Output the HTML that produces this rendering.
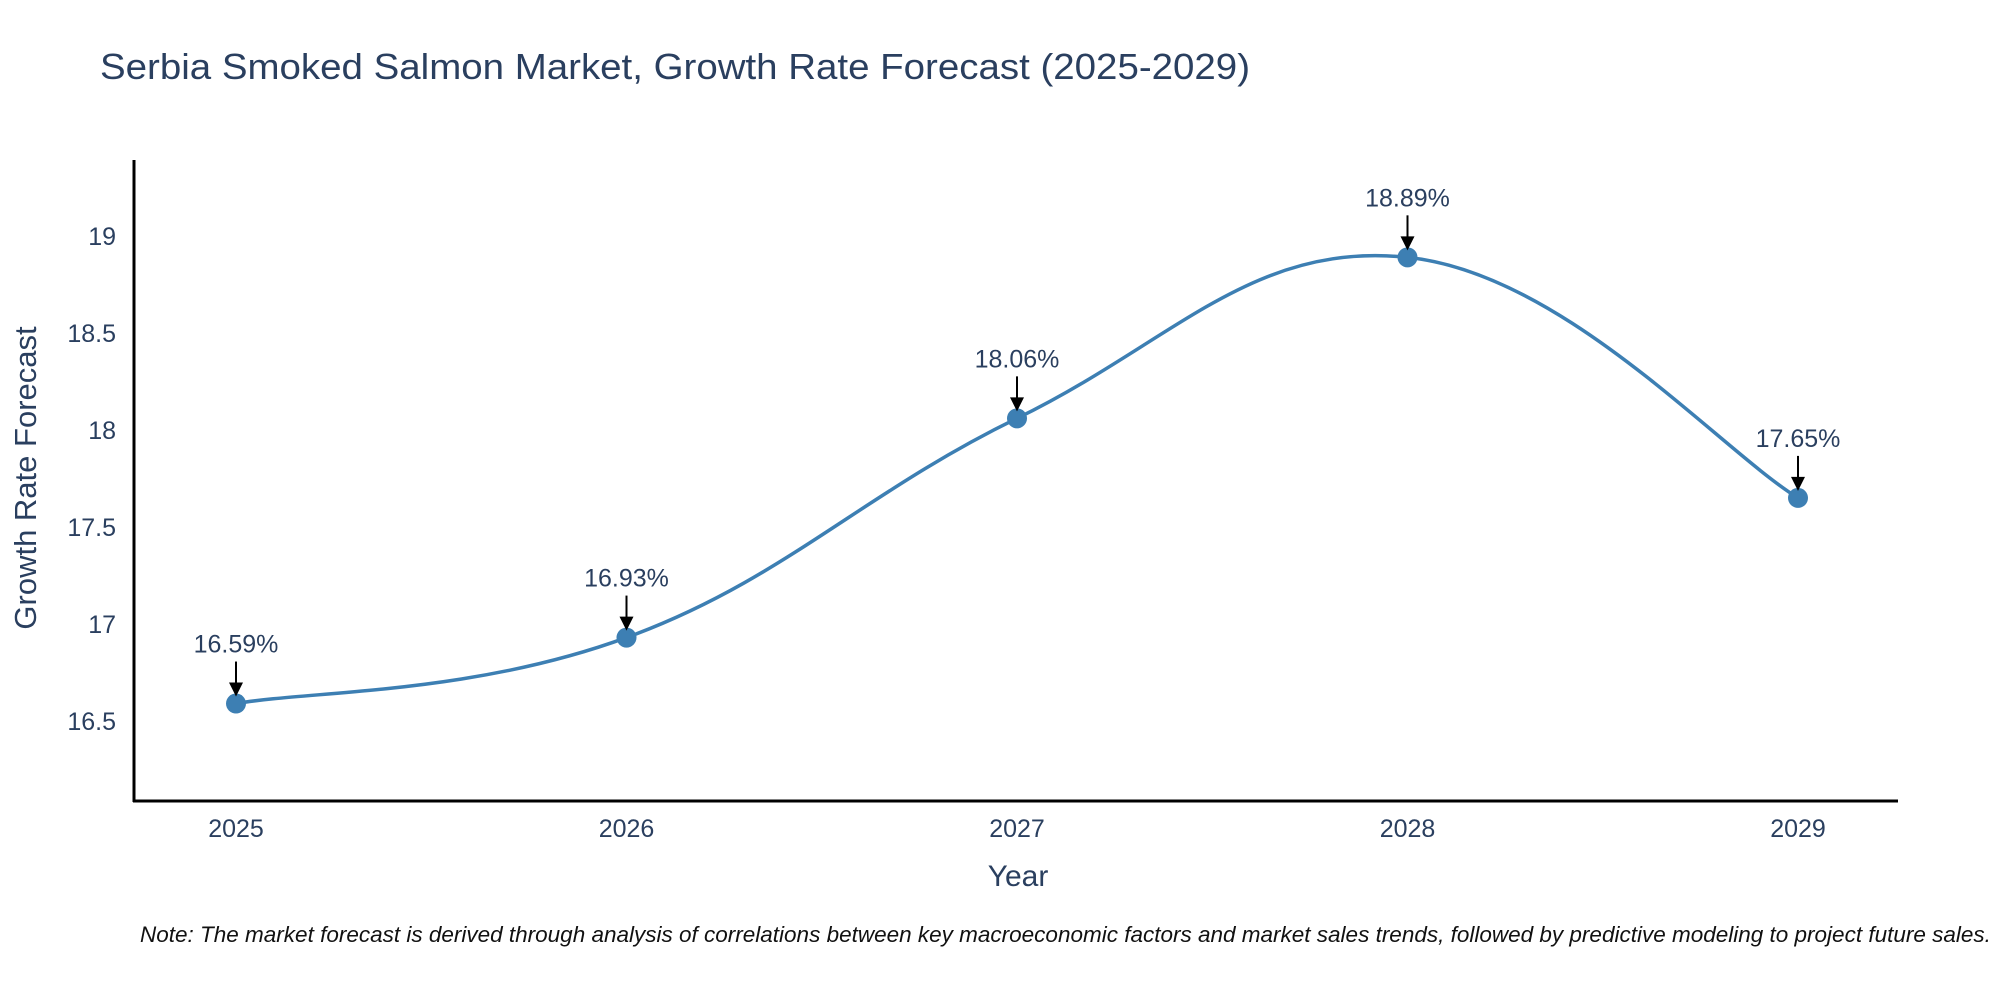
<!DOCTYPE html>
<html><head><meta charset="utf-8"><style>
html,body{margin:0;padding:0;background:#fff;width:2000px;height:1000px;overflow:hidden}
text{font-family:"Liberation Sans",sans-serif}
</style></head><body>
<svg id="chart" width="2000" height="1000" xmlns="http://www.w3.org/2000/svg">
<text x="100" y="79" font-size="36" fill="#2a3f5f" textLength="1150" lengthAdjust="spacingAndGlyphs">Serbia Smoked Salmon Market, Growth Rate Forecast (2025-2029)</text>
<g id="plot"></g>
<text transform="translate(36,478) rotate(-90)" text-anchor="middle" font-size="31" fill="#2a3f5f">Growth Rate Forecast</text>
<text x="1018" y="886" text-anchor="middle" font-size="30" fill="#2a3f5f">Year</text>
<text x="140" y="942" font-size="22.5" font-style="italic" fill="#111">Note: The market forecast is derived through analysis of correlations between key macroeconomic factors and market sales trends, followed by predictive modeling to project future sales.</text>
</svg>
<script>
const years = [2025, 2026, 2027, 2028, 2029];
const values = [16.59, 16.93, 18.06, 18.89, 17.65];
const yTicks = [16.5, 17, 17.5, 18, 18.5, 19];
const labels = ["16.59%", "16.93%", "18.06%", "18.89%", "17.65%"];

const L=134,R=1898,T=160,B=801;
const x = v => 236 + (v-2025)*390.5;
const y = v => 721 - (v-16.5)*194;
const NS="http://www.w3.org/2000/svg";
const g=document.getElementById('plot');
function mk(tag,attrs){const e=document.createElementNS(NS,tag);for(const k in attrs)e.setAttribute(k,attrs[k]);g.appendChild(e);return e;}

yTicks.forEach(t=>{
  const e=mk('text',{x:L-18,y:y(t)+9,'text-anchor':'end','font-size':25,fill:'#2a3f5f'});
  
  
  e.textContent=t;
});
years.forEach(t=>{
  const e=mk('text',{x:x(t),y:837,'text-anchor':'middle','font-size':25,fill:'#2a3f5f'});
  
  
  e.textContent=t;
});

const pts=years.map((yr,i)=>[x(yr),y(values[i])]);
let d=`M${pts[0][0]},${pts[0][1]}`;
for(let i=0;i<pts.length-1;i++){
  const p0=pts[Math.max(0,i-1)],p1=pts[i],p2=pts[i+1],p3=pts[Math.min(pts.length-1,i+2)];
  const c1=[p1[0]+(p2[0]-p0[0])/5,p1[1]+(p2[1]-p0[1])/5];
  const c2=[p2[0]-(p3[0]-p1[0])/5,p2[1]-(p3[1]-p1[1])/5];
  d+=` C${c1[0]},${c1[1]} ${c2[0]},${c2[1]} ${p2[0]},${p2[1]}`;
}
const line=mk('path',{d:d,fill:'none',stroke:'#3d7fb3','stroke-width':3.5});



pts.forEach((p,i)=>{
  const c=mk('circle',{cx:p[0],cy:p[1],r:10,fill:'#3d7fb3'});
  
  
  const a=mk('line',{x1:p[0],y1:p[1]-42,x2:p[0],y2:p[1]-20,stroke:'#000','stroke-width':2});
  
  
  const h=mk('path',{d:`M${p[0]-7},${p[1]-21} L${p[0]+7},${p[1]-21} L${p[0]},${p[1]-7} Z`,fill:'#000'});
  
  
  const t=mk('text',{x:p[0],y:p[1]-51,'text-anchor':'middle','font-size':25,fill:'#2a3f5f'});
  
  
  t.textContent=labels[i];
});

const ya=mk('line',{x1:L,y1:T,x2:L,y2:B+1,stroke:'#000','stroke-width':3});


const xa=mk('line',{x1:L-1,y1:B,x2:R,y2:B,stroke:'#000','stroke-width':3});


</script>
</body></html>
